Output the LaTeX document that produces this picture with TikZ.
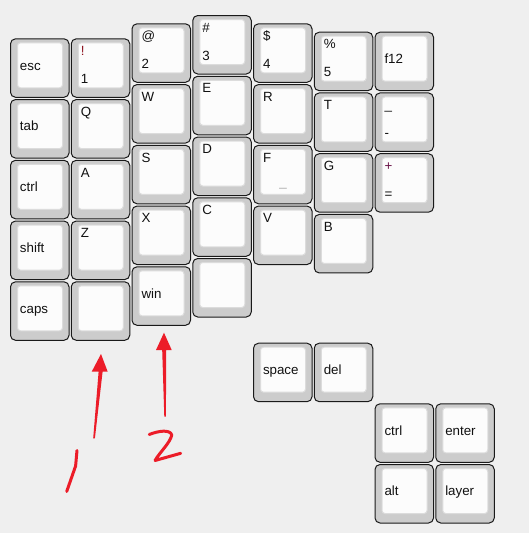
\documentclass[tikz,border=0pt]{standalone}
\usepackage{fontspec}
\setmainfont{Liberation Sans}
\definecolor{bg}{HTML}{EFEFEF}
\definecolor{capgrey}{HTML}{CCCCCC}
\definecolor{capedge}{HTML}{1A1A1A}
\definecolor{topface}{HTML}{FCFCFC}
\definecolor{topedge}{HTML}{DCDCDC}
\definecolor{legtext}{HTML}{111111}
\definecolor{legred}{HTML}{8E1420}
\definecolor{legplum}{HTML}{6A1448}
\definecolor{fronttext}{HTML}{AAAAAA}
\definecolor{penred}{HTML}{EC1C28}
\tikzset{
  kout/.style={draw=capedge, fill=capgrey, line width=0.75pt, rounded corners=3.75pt,
    minimum width=43.875pt, minimum height=43.875pt, inner sep=0pt, outer sep=0pt},
  kin/.style={draw=topedge, fill=topface, line width=0.75pt, rounded corners=2.25pt,
    minimum width=33.75pt, minimum height=33.75pt, inner sep=0pt, outer sep=0pt},
  leg/.style={inner sep=0pt, outer sep=0pt, text=legtext, font=\fontsize{10pt}{12pt}\selectfont, anchor=base west},
  pen/.style={draw=penred, line width=2.25pt, line cap=round, line join=round},
  penfill/.style={fill=penred},
}
% key body: name, x, y (top-left corner, pixels)
\newcommand\kbody[3]{%
  \node[kout] (#1) at (#2+29.75,#3+29.75) {};
  \node[kin] (#1in) at (#2+30,#3+27) {};}
% single label vertically centred
\newcommand\kmid[4]{\kbody{#1}{#2}{#3}\node[leg] (#1t) at (#2+10,#3+31.8) {#4};}
% single label at the top
\newcommand\ktop[4]{\kbody{#1}{#2}{#3}\node[leg] (#1t) at (#2+10,#3+17.2) {#4};}
% two labels, top and bottom
\newcommand\ktwo[5]{\kbody{#1}{#2}{#3}\node[leg] (#1t) at (#2+10,#3+17.2) {#4};
  \node[leg] (#1b) at (#2+10,#3+45) {#5};}
\begin{document}
\begin{tikzpicture}[x=0.75pt,y=-0.75pt]
\fill[bg] (0,0) rectangle (529,533);
\useasboundingbox (0,0) rectangle (529,533);
% column 0
\kmid{esc}{10}{38.3}{esc}
\kmid{tab}{10}{99.05}{tab}
\kmid{lctrl}{10}{159.8}{ctrl}
\kmid{shift}{10}{220.55}{shift}
\kmid{caps}{10}{281.3}{caps}
% column 1
\ktwo{one}{70.75}{38.3}{\textcolor{legred}{!}}{1}
\ktop{q}{70.75}{99.05}{Q}
\ktop{a}{70.75}{159.8}{A}
\ktop{z}{70.75}{220.55}{Z}
\kbody{blanka}{70.75}{281.3}
% column 2
\ktwo{two}{131.5}{23.3}{@}{2}
\ktop{w}{131.5}{84.05}{W}
\ktop{s}{131.5}{144.8}{S}
\ktop{x}{131.5}{205.55}{X}
\kmid{win}{131.5}{266.3}{win}
% column 3
\ktwo{three}{192.25}{15}{\#}{3}
\ktop{e}{192.25}{75.75}{E}
\ktop{d}{192.25}{136.5}{D}
\ktop{c}{192.25}{197.25}{C}
\kbody{blankb}{192.25}{258}
% column 4
\ktwo{four}{253}{23.3}{\$}{4}
\ktop{r}{253}{84.05}{R}
\ktop{f}{253}{144.8}{F}
\node[leg, anchor=base, text=fronttext] (fu) at (253+30,144.8+42) {\_};
\ktop{v}{253}{205.55}{V}
% column 5
\ktwo{five}{313.75}{31.7}{\%}{5}
\ktop{t}{313.75}{92.45}{T}
\ktop{g}{313.75}{153.2}{G}
\ktop{b}{313.75}{213.95}{B}
% column 6
\kmid{ftw}{374.5}{31.7}{f12}
\ktwo{minus}{374.5}{92.45}{\_}{-}
\ktwo{equal}{374.5}{153.2}{\textcolor{legplum}{+}}{=}
% thumb cluster
\kmid{space}{253}{342.7}{space}
\kmid{del}{313.75}{342.7}{del}
\kmid{rctrl}{374.5}{403.3}{ctrl}
\kmid{enter}{435.25}{403.3}{enter}
\kmid{alt}{374.5}{464}{alt}
\kmid{layer}{435.25}{464}{layer}
% hand-drawn red arrows and numbers
\fill[penfill] (93.2,438.3) -- (98.6,371.7) -- (91.7,371.7) -- (101,354) -- (107.7,371.7)
  -- (102.6,371.7) -- (94.9,438.3) -- cycle;
\fill[penfill] (164.3,416.7) -- (162.2,350) -- (156,350) -- (164,332.7) -- (171.7,350)
  -- (166.2,350) -- (165.9,416.7) -- cycle;
\draw[pen] (77,450.5) -- (75.6,466) -- (66.7,491.5);
\draw[pen] (149.2,434.5) .. controls (158,431) and (170,429) .. (171.8,435)
  .. controls (170,443) and (160,452) .. (155,460.5) -- (180.7,453.3);
\end{tikzpicture}
\end{document}
